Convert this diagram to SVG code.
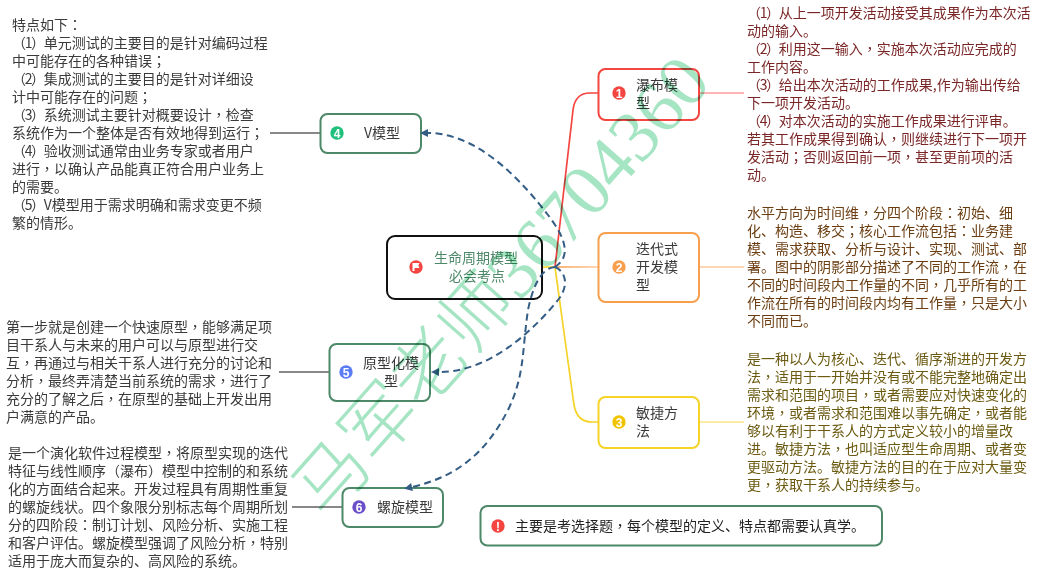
<svg xmlns="http://www.w3.org/2000/svg" width="1038" height="576" viewBox="0 0 1038 576">
<style>
text{font-family:"Noto Sans CJK SC","Liberation Sans",sans-serif;font-size:14px}
.c{font-family:"Noto Sans CJK TC","Noto Sans CJK SC",sans-serif}
.n{letter-spacing:-1.330px}
.box{fill:#fff;stroke-width:2}
.g{stroke:#4d8868}
.t{fill:#3a3a3a}
.ic{font-family:"Liberation Sans",sans-serif;font-size:12px;font-weight:bold;fill:#fff;text-anchor:middle}
.link{fill:none;stroke-width:1.7}
.dash{fill:none;stroke:#345d85;stroke-width:2;stroke-dasharray:7 4.500;marker-end:url(#arr)}
.lead{stroke:#888;stroke-width:2;fill:none}
.wm{font-family:"Liberation Serif","Noto Sans CJK SC",serif;font-size:73px;font-weight:300;fill:#a6e5c4;mix-blend-mode:multiply}
</style>
<defs>
<marker id="arr" markerUnits="userSpaceOnUse" markerWidth="10" markerHeight="10" refX="1" refY="5" orient="auto"><path d="M1 5L9 1V9Z" fill="#345d85" transform="rotate(180 5 5)"/></marker>
<linearGradient id="og" gradientUnits="userSpaceOnUse" x1="555" y1="0" x2="598" y2="0"><stop offset="0" stop-color="#f79a45"/><stop offset="1" stop-color="#fdc99a"/></linearGradient>
</defs>
<g id="connectors">
<path class="link" stroke="#f5d327" d="M542 267H555L574 405Q577 422 592 422H598" stroke-width="2"/>
<path class="link" stroke="#f44541" d="M555 267L573 110Q575 93 590 93H598"/>
<path class="link" stroke="url(#og)" d="M555 267H598"/>
<path class="link" stroke="#ff9d9b" d="M699 93H744"/>
<path class="link" stroke="#fdc99a" d="M699 267H744"/>
<path class="link" stroke="#fbe684" d="M699 422H744"/>
<path class="lead" d="M270 133H320"/>
<path class="lead" d="M279 372H329"/>
<path class="lead" d="M292 507H342"/>
</g>
<g id="node-root"><rect class="box" x="387" y="236" width="155" height="63" rx="8" stroke="#111"/>
<circle cx="416" cy="267" r="6.700" fill="#f44541"/><path d="M412.500 263H419.500L418.300 265.500L419.500 268H414.500V271H412.500Z" fill="#fff"/>
<text fill="#4d8868" text-anchor="middle"><tspan x="476" y="263">生命周期模型</tspan><tspan x="477" y="281">必会考点</tspan></text></g>
<g id="node-1"><rect class="box" x="598.500" y="69" width="100.500" height="51" rx="7" stroke="#f44541"/>
<circle cx="619" cy="93" r="6.700" fill="#f44541"/><text class="ic" x="619" y="97.500">1</text>
<text class="t"><tspan x="636" y="90">瀑布模</tspan><tspan x="636" y="108">型</tspan></text></g>
<g id="node-2"><rect class="box" x="598.500" y="233" width="100.500" height="69" rx="7" stroke="#f79f4d"/>
<circle cx="619" cy="267" r="6.700" fill="#f79f4d"/><text class="ic" x="619" y="271.500">2</text>
<text class="t"><tspan x="636" y="254">迭代式</tspan><tspan x="636" y="272">开发模</tspan><tspan x="636" y="290">型</tspan></text></g>
<g id="node-3"><rect class="box" x="598.500" y="397" width="100.500" height="51" rx="7" stroke="#f5d327"/>
<circle cx="619" cy="422" r="6.700" fill="#f0c400"/><text class="ic" x="619" y="426.500">3</text>
<text class="t"><tspan x="636" y="418">敏捷方</tspan><tspan x="636" y="436">法</tspan></text></g>
<g id="node-4"><rect class="box g" x="320.500" y="114" width="100.500" height="39" rx="7"/>
<circle cx="337" cy="133" r="6.700" fill="#1fbf7c"/><text class="ic" x="337" y="137.500">4</text>
<text class="t" x="364" y="138">V模型</text></g>
<g id="node-5"><rect class="box g" x="329.500" y="344" width="100.500" height="57" rx="7"/>
<circle cx="346" cy="372" r="6.700" fill="#5b7bf7"/><text class="ic" x="346" y="376.500">5</text>
<text class="t" text-anchor="middle"><tspan x="391" y="368">原型化模</tspan><tspan x="391" y="386">型</tspan></text></g>
<g id="node-6"><rect class="box g" x="342.500" y="488" width="100.500" height="39" rx="7"/>
<circle cx="359" cy="507" r="6.700" fill="#6a4fc9"/><text class="ic" x="359" y="511.500">6</text>
<text class="t" x="377" y="512">螺旋模型</text></g>
<g id="node-note"><rect class="box g" x="480.500" y="506" width="401.500" height="39.500" rx="7"/>
<circle cx="498" cy="526" r="6.700" fill="#f44541"/><text class="ic" x="498" y="530.500">!</text>
<text fill="#222" x="515" y="531">主要是考选择题<tspan class="c">，</tspan>每个模型的定义、特点都需要认真学。</text></g>
<g id="dashed-links">
<path class="dash" d="M555 267C572 256 565 237 548 215C525 185 480 133 428 133"/>
<path class="dash" d="M555 267C565 271 570 285 558 300C540 322 495 372 439 372"/>
<path class="dash" d="M555 267C540 268 532 290 528 310C522 350 525 375 508 410C485 455 455 477 412 487"/>
</g>
<g id="detail-4"><text class="t"><tspan x="12" y="30">特点如下<tspan class="c">：</tspan></tspan><tspan x="12" y="48"><tspan class="n">（1）</tspan>单元测试的主要目的是针对编码过程</tspan><tspan x="12" y="66">中可能存在的各种错误<tspan class="c">；</tspan></tspan><tspan x="12" y="84"><tspan class="n">（2）</tspan>集成测试的主要目的是针对详细设</tspan><tspan x="12" y="102">计中可能存在的问题<tspan class="c">；</tspan></tspan><tspan x="12" y="120"><tspan class="n">（3）</tspan>系统测试主要针对概要设计<tspan class="c">，</tspan>检查</tspan><tspan x="12" y="138">系统作为一个整体是否有效地得到运行<tspan class="c">；</tspan></tspan><tspan x="12" y="156"><tspan class="n">（4）</tspan>验收测试通常由业务专家或者用户</tspan><tspan x="12" y="174">进行<tspan class="c">，</tspan>以确认产品能真正符合用户业务上</tspan><tspan x="12" y="192">的需要。</tspan><tspan x="12" y="210"><tspan class="n">（5）</tspan>V模型用于需求明确和需求变更不频</tspan><tspan x="12" y="228">繁的情形。</tspan></text></g>
<g id="detail-5"><text class="t"><tspan x="6" y="332">第一步就是创建一个快速原型<tspan class="c">，</tspan>能够满足项</tspan><tspan x="6" y="350">目干系人与未来的用户可以与原型进行交</tspan><tspan x="6" y="368">互<tspan class="c">，</tspan>再通过与相关干系人进行充分的讨论和</tspan><tspan x="6" y="386">分析<tspan class="c">，</tspan>最终弄清楚当前系统的需求<tspan class="c">，</tspan>进行了</tspan><tspan x="6" y="404">充分的了解之后<tspan class="c">，</tspan>在原型的基础上开发出用</tspan><tspan x="6" y="422">户满意的产品。</tspan></text></g>
<g id="detail-6"><text class="t"><tspan x="8" y="458">是一个演化软件过程模型<tspan class="c">，</tspan>将原型实现的迭代</tspan><tspan x="8" y="476">特征与线性顺序（瀑布）模型中控制的和系统</tspan><tspan x="8" y="494">化的方面结合起来。开发过程具有周期性重复</tspan><tspan x="8" y="512">的螺旋线状。四个象限分别标志每个周期所划</tspan><tspan x="8" y="530">分的四阶段<tspan class="c">：</tspan>制订计划、风险分析、实施工程</tspan><tspan x="8" y="548">和客户评估。螺旋模型强调了风险分析<tspan class="c">，</tspan>特别</tspan><tspan x="8" y="566">适用于庞大而复杂的、高风险的系统。</tspan></text></g>
<g id="detail-1"><text fill="#7b2626"><tspan x="747" y="18"><tspan class="n">（1）</tspan>从上一项开发活动接受其成果作为本次活</tspan><tspan x="747" y="36">动的输入。</tspan><tspan x="747" y="54"><tspan class="n">（2）</tspan>利用这一输入<tspan class="c">，</tspan>实施本次活动应完成的</tspan><tspan x="747" y="72">工作内容。</tspan><tspan x="747" y="90"><tspan class="n">（3）</tspan>给出本次活动的工作成果,作为输出传给</tspan><tspan x="747" y="108">下一项开发活动。</tspan><tspan x="747" y="126"><tspan class="n">（4）</tspan>对本次活动的实施工作成果进行评审。</tspan><tspan x="747" y="144">若其工作成果得到确认<tspan class="c">，</tspan>则继续进行下一项开</tspan><tspan x="747" y="162">发活动<tspan class="c">；</tspan>否则返回前一项<tspan class="c">，</tspan>甚至更前项的活</tspan><tspan x="747" y="180">动。</tspan></text></g>
<g id="detail-2"><text fill="#6b3d10"><tspan x="747" y="218">水平方向为时间维<tspan class="c">，</tspan>分四个阶段<tspan class="c">：</tspan>初始、细</tspan><tspan x="747" y="236">化、构造、移交<tspan class="c">；</tspan>核心工作流包括<tspan class="c">：</tspan>业务建</tspan><tspan x="747" y="254">模、需求获取、分析与设计、实现、测试、部</tspan><tspan x="747" y="272">署。图中的阴影部分描述了不同的工作流<tspan class="c">，</tspan>在</tspan><tspan x="747" y="290">不同的时间段内工作量的不同<tspan class="c">，</tspan>几乎所有的工</tspan><tspan x="747" y="308">作流在所有的时间段内均有工作量<tspan class="c">，</tspan>只是大小</tspan><tspan x="747" y="326">不同而已。</tspan></text></g>
<g id="detail-3"><text fill="#6b5a10"><tspan x="747" y="364">是一种以人为核心、迭代、循序渐进的开发方</tspan><tspan x="747" y="382">法<tspan class="c">，</tspan>适用于一开始并没有或不能完整地确定出</tspan><tspan x="747" y="400">需求和范围的项目<tspan class="c">，</tspan>或者需要应对快速变化的</tspan><tspan x="747" y="418">环境<tspan class="c">，</tspan>或者需求和范围难以事先确定<tspan class="c">，</tspan>或者能</tspan><tspan x="747" y="436">够以有利于干系人的方式定义较小的增量改</tspan><tspan x="747" y="454">进。敏捷方法<tspan class="c">，</tspan>也叫适应型生命周期、或者变</tspan><tspan x="747" y="472">更驱动方法。敏捷方法的目的在于应对大量变</tspan><tspan x="747" y="490">更<tspan class="c">，</tspan>获取干系人的持续参与。</tspan></text></g>
<text class="wm" transform="translate(326 521) rotate(-48.500)">马军老师36704360</text>
</svg>
